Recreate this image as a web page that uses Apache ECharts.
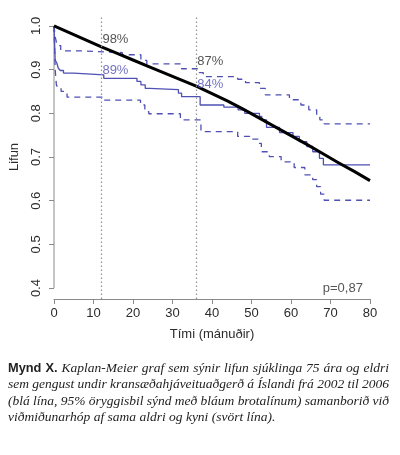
<!DOCTYPE html>
<html>
<head>
<meta charset="utf-8">
<script src="https://cdn.jsdelivr.net/npm/echarts@6/dist/echarts.min.js"></script>
<style>
  html, body { margin: 0; padding: 0; background: #fff; }
  #wrap { position: relative; width: 400px; height: 455px; }
  #chart { position: absolute; left: 0; top: 0; width: 400px; height: 455px; }
  #caption { position: absolute; left: 8px; top: 360px; width: 381px; color: #222; }
  #caption .ln { font-family: "Liberation Serif", serif; font-style: italic; font-size: 13.5px; line-height: 16.4px; white-space: nowrap; text-align: justify; text-align-last: justify; }
  #caption .ln.last { text-align-last: left; }
  #caption b { font-family: "Liberation Sans", Arial, sans-serif; font-style: normal; font-weight: bold; font-size: 12.8px; }
</style>
</head>
<body>
<div id="wrap">
  <div id="chart"></div>
  <div id="caption">
    <div class="ln"><b>Mynd X.</b> Kaplan-Meier graf sem sýnir lifun sjúklinga 75 ára og eldri</div>
    <div class="ln">sem gengust undir kransæðahjáveituaðgerð á Íslandi frá 2002 til 2006</div>
    <div class="ln">(blá lína, 95% öryggisbil sýnd með bláum brotalínum) samanborið við</div>
    <div class="ln last">viðmiðunarhóp af sama aldri og kyni (svört lína).</div>
  </div>
</div>
<script>
// ---- Data ----
const xTicks = [0, 10, 20, 30, 40, 50, 60, 70, 80];
const yTicks = [0.4, 0.5, 0.6, 0.7, 0.8, 0.9, 1.0];

// Expected survival of matched reference population (black line)
const expMonths = [0, 4, 8, 12, 16, 20, 24, 28, 32, 36, 40, 44, 48, 52, 56, 60, 64, 68, 72, 76, 80];
const expSurv   = [1.000, 0.984, 0.968, 0.952, 0.937, 0.922, 0.907, 0.892, 0.877, 0.862, 0.845, 0.828, 0.809, 0.789, 0.769, 0.749, 0.729, 0.708, 0.687, 0.667, 0.646];

// Kaplan-Meier survival (blue step line)
const kmMonths = [0, 0.3, 0.7, 1.1, 1.6, 2.4, 5.0, 12.6, 21.0, 22.0, 23.1, 24.2, 31.5, 32.3, 37.0, 43.0, 46.6, 48.3, 52.0, 52.6, 53.8, 57.1, 60.5, 62.1, 64.0, 65.5, 67.2, 68.2, 80];
const kmSurv   = [1.000, 0.922, 0.915, 0.903, 0.898, 0.892, 0.888, 0.880, 0.873, 0.865, 0.857, 0.854, 0.846, 0.838, 0.819, 0.814, 0.808, 0.800, 0.793, 0.785, 0.768, 0.756, 0.747, 0.735, 0.724, 0.712, 0.697, 0.682, 0.682];

// 95% confidence interval (blue dashed)
const ciUpMonths = [0, 0.3, 0.8, 1.7, 6.5, 17.3, 22.0, 23.5, 32.3, 36.8, 37.8, 46.5, 48.5, 52.0, 53.5, 59.6, 62.5, 64.5, 66.5, 67.3, 68.4, 80];
const ciUpSurv   = [1.000, 0.975, 0.955, 0.943, 0.939, 0.934, 0.921, 0.913, 0.902, 0.893, 0.884, 0.878, 0.870, 0.857, 0.842, 0.831, 0.819, 0.808, 0.796, 0.785, 0.776, 0.776];
const ciLoMonths = [0, 0.3, 0.6, 1.0, 1.8, 3.3, 12.2, 21.9, 23.0, 24.0, 32.0, 37.2, 46.5, 49.5, 51.8, 52.5, 54.5, 57.5, 60.8, 63.5, 65.5, 66.5, 67.5, 68.4, 80];
const ciLoSurv   = [1.000, 0.900, 0.865, 0.858, 0.850, 0.837, 0.830, 0.819, 0.804, 0.799, 0.785, 0.758, 0.747, 0.741, 0.731, 0.712, 0.701, 0.689, 0.676, 0.659, 0.648, 0.632, 0.615, 0.601, 0.601];

// Annotated time points and their survival percentages
const markMonths = [12, 36];
const expPct = ['98%', '87%'];
const kmPct  = ['89%', '84%'];
const pValueText = 'p=0,87';

// ---- Caption fitting (justify; shrink lines that are too long) ----
(function fitCaption() {
  const target = 381;
  document.querySelectorAll('#caption .ln').forEach(ln => {
    if (ln.classList.contains('last')) return;
    const probe = document.createElement('span');
    probe.innerHTML = ln.innerHTML;
    probe.style.cssText = 'position:absolute;visibility:hidden;white-space:nowrap;';
    ln.appendChild(probe);
    const w = probe.getBoundingClientRect().width;
    ln.removeChild(probe);
    if (w > target) {
      const n = ln.textContent.length;
      ln.style.letterSpacing = ((target - w) / n) + 'px';
    }
  });
})();

// ---- Chart ----
const BLUE = '#4f50b4';
const AXIS = '#8a8a8a';
const TXT = '#2b2b2b';
const FONT = '"Liberation Sans", Arial, Helvetica, sans-serif';

const zip = (a, b) => a.map((v, i) => [v, b[i]]);

const chart = echarts.init(document.getElementById('chart'), null, { renderer: 'canvas' });

const annData = [
  { value: [markMonths[0], 0.968, expPct[0]], label: { color: TXT } },
  { value: [markMonths[0], 0.899, kmPct[0]], label: { color: BLUE } },
  { value: [markMonths[1], 0.918, expPct[1]], label: { color: TXT } },
  { value: [markMonths[1], 0.865, kmPct[1]], label: { color: BLUE } }
];

chart.setOption({
  animation: false,
  backgroundColor: 'transparent',
  grid: { left: 53, right: 30, top: 15, bottom: 156, containLabel: false },
  xAxis: {
    type: 'value', min: xTicks[0], max: xTicks[xTicks.length - 1], interval: 10,
    axisLine: { show: true, lineStyle: { color: AXIS, width: 1 } },
    axisTick: { show: true, inside: false, length: 5, lineStyle: { color: AXIS } },
    axisLabel: { color: TXT, fontSize: 13, fontFamily: FONT, margin: 8 },
    splitLine: { show: false },
    name: 'Tími (mánuðir)', nameLocation: 'middle', nameGap: 29,
    nameTextStyle: { color: TXT, fontSize: 13, fontFamily: FONT }
  },
  yAxis: {
    type: 'value', min: 0.375, max: 1.025,
    axisLine: { show: false },
    axisTick: { show: true, inside: false, length: 5, customValues: yTicks, lineStyle: { color: AXIS } },
    axisLabel: { show: true, customValues: yTicks, rotate: 90, color: TXT, fontSize: 13, fontFamily: FONT, margin: 11,
      formatter: v => Number(v).toFixed(1) },
    splitLine: { show: false },
    name: 'Lifun', nameLocation: 'middle', nameGap: 33, nameRotate: 90,
    nameTextStyle: { color: TXT, fontSize: 13, fontFamily: FONT }
  },
  series: [
    { // y-axis line from first to last tick (R-style)
      type: 'line', data: [[xTicks[0], yTicks[0]], [xTicks[0], yTicks[yTicks.length - 1]]],
      symbol: 'none', clip: false, silent: true, z: 1,
      lineStyle: { color: AXIS, width: 1 }
    },
    {
      name: 'upper', type: 'line', step: 'end', data: zip(ciUpMonths, ciUpSurv),
      symbol: 'none', clip: false, z: 2,
      lineStyle: { color: BLUE, width: 1.3, type: [6, 5] }
    },
    {
      name: 'lower', type: 'line', step: 'end', data: zip(ciLoMonths, ciLoSurv),
      symbol: 'none', clip: false, z: 2,
      lineStyle: { color: BLUE, width: 1.3, type: [6, 5] }
    },
    {
      name: 'KM', type: 'line', step: 'end', data: zip(kmMonths, kmSurv),
      symbol: 'none', clip: false, z: 3,
      lineStyle: { color: BLUE, width: 1.3 }
    },
    {
      name: 'expected', type: 'line', data: zip(expMonths, expSurv),
      symbol: 'none', smooth: false, clip: false, z: 4,
      lineStyle: { color: '#000', width: 3, join: 'round' },
      markLine: {
        silent: true, symbol: 'none', label: { show: false },
        lineStyle: { color: '#8f8f8f', width: 1.2, type: [1.5, 2.5] },
        data: markMonths.map(m => ({ xAxis: m }))
      }
    },
    {
      name: 'annotations', type: 'scatter', symbolSize: 0, silent: true, z: 5,
      data: annData,
      label: { show: true, position: 'right', distance: 1, fontSize: 13, fontFamily: FONT,
        formatter: p => p.value[2] }
    },
    {
      name: 'pvalue', type: 'scatter', symbolSize: 0, silent: true, z: 5,
      data: [[78.2, 0.4]],
      label: { show: true, position: 'left', distance: 0, fontSize: 13, fontFamily: FONT, color: TXT,
        formatter: () => pValueText }
    }
  ]
});
</script>
</body>
</html>
